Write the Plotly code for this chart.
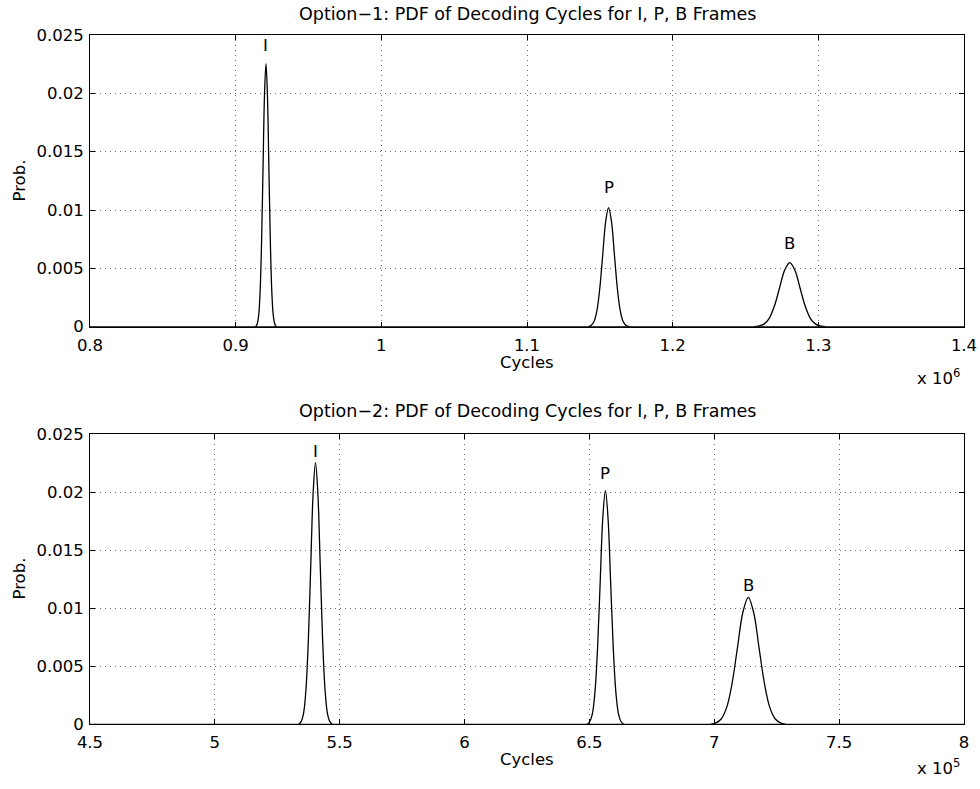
import plotly.graph_objects as go

W, H = 980, 789
FONT = "DejaVu Sans"
FS = 16.5
FS_TITLE = 17.5

# ---------------- data ----------------
# Option-1 (cycles)
opt1_I_x = [913800, 914800, 915800, 916800, 917800, 918800, 919800, 920800, 921800, 922800, 923800, 924800, 925800, 926800, 927800]
opt1_I_y = [0, 0.00025, 0.00099, 0.00305, 0.00732, 0.01367, 0.01989, 0.02254, 0.01989, 0.01367, 0.00732, 0.00305, 0.00099, 0.00025, 0]
opt1_P_x = [1142000, 1144000, 1146000, 1148000, 1150000, 1152000, 1154000, 1156000, 1158000, 1160000, 1162000, 1164000, 1166000, 1168000, 1170000]
opt1_P_y = [0, 0.00011, 0.00045, 0.00138, 0.00332, 0.00619, 0.00901, 0.01021, 0.00901, 0.00619, 0.00332, 0.00138, 0.00045, 0.00011, 0]
opt1_B_x = [1255900, 1259400, 1262900, 1266400, 1269900, 1273400, 1276900, 1280400, 1283900, 1287400, 1290900, 1294400, 1297900, 1301400, 1304900]
opt1_B_y = [0, 0.00006, 0.00024, 0.00074, 0.00179, 0.00334, 0.00485, 0.0055, 0.00485, 0.00334, 0.00179, 0.00074, 0.00024, 0.00006, 0]
opt1_base_x = [800000, 1400000]
opt1_base_y = [0, 0]

# Option-2 (cycles)
opt2_I_x = [533650, 534600, 535550, 536500, 537450, 538400, 539350, 540300, 541250, 542200, 543150, 544100, 545050, 546000, 546950]
opt2_I_y = [0, 0.00025, 0.00099, 0.00305, 0.00732, 0.01368, 0.0199, 0.02255, 0.0199, 0.01368, 0.00732, 0.00305, 0.00099, 0.00025, 0]
opt2_P_x = [649050, 650100, 651150, 652200, 653250, 654300, 655350, 656400, 657450, 658500, 659550, 660600, 661650, 662700, 663750]
opt2_P_y = [0, 0.00022, 0.00088, 0.00273, 0.00654, 0.01221, 0.01777, 0.02014, 0.01777, 0.01221, 0.00654, 0.00273, 0.00088, 0.00022, 0]
opt2_B_x = [698550, 700700, 702850, 705000, 707150, 709300, 711450, 713600, 715750, 717900, 720050, 722200, 724350, 726500, 728650]
opt2_B_y = [0, 0.00012, 0.00048, 0.00148, 0.00356, 0.00664, 0.00966, 0.01095, 0.00966, 0.00664, 0.00356, 0.00148, 0.00048, 0.00012, 0]
opt2_base_x = [450000, 800000]
opt2_base_y = [0, 0]

# peak labels
labels = ["I", "P", "B"]
opt1_label_x = [920800, 1156000, 1280400]
opt1_label_y = [0.02406, 0.01189, 0.00717]
opt2_label_x = [540300, 656400, 713600]
opt2_label_y = [0.0235, 0.02166, 0.0120]

# ticks
x1_tickvals = [800000, 900000, 1000000, 1100000, 1200000, 1300000, 1400000]
x1_ticktext = ["0.8", "0.9", "1", "1.1", "1.2", "1.3", "1.4"]
x2_tickvals = [450000, 500000, 550000, 600000, 650000, 700000, 750000, 800000]
x2_ticktext = ["4.5", "5", "5.5", "6", "6.5", "7", "7.5", "8"]
y_tickvals = [0, 0.005, 0.01, 0.015, 0.02, 0.025]
y_ticktext = ["0", "0.005", "0.01", "0.015", "0.02", "0.025"]

title1 = "Option\u22121: PDF of Decoding Cycles for I, P, B Frames"
title2 = "Option\u22122: PDF of Decoding Cycles for I, P, B Frames"

# ---------------- figure ----------------
fig = go.Figure()
line = dict(color="black", width=1.2)

fig.add_trace(go.Scatter(x=opt1_base_x, y=opt1_base_y, mode="lines", line=line, xaxis="x", yaxis="y", showlegend=False, hoverinfo="skip"))
for xs, ys in [(opt1_I_x, opt1_I_y), (opt1_P_x, opt1_P_y), (opt1_B_x, opt1_B_y)]:
    fig.add_trace(go.Scatter(x=xs, y=ys, mode="lines", line=dict(color="black", width=1.3, shape="spline", smoothing=1),
                             xaxis="x", yaxis="y", showlegend=False))
fig.add_trace(go.Scatter(x=opt2_base_x, y=opt2_base_y, mode="lines", line=line, xaxis="x2", yaxis="y2", showlegend=False, hoverinfo="skip"))
for xs, ys in [(opt2_I_x, opt2_I_y), (opt2_P_x, opt2_P_y), (opt2_B_x, opt2_B_y)]:
    fig.add_trace(go.Scatter(x=xs, y=ys, mode="lines", line=dict(color="black", width=1.3, shape="spline", smoothing=1),
                             xaxis="x2", yaxis="y2", showlegend=False))

def px_x(p):
    return p / W

def px_y(p):
    return 1 - p / H

xdom = [px_x(90), px_x(964)]
common_axis = dict(
    showline=True, linecolor="black", linewidth=1, mirror="ticks",
    ticks="inside", ticklen=5, tickcolor="black", tickwidth=1,
    showgrid=True, gridcolor="#6f6f6f", griddash="1px,4px", gridwidth=1,
    zeroline=False, automargin=False,
    tickfont=dict(family=FONT, size=FS, color="black"),
)

fig.update_layout(
    width=W, height=H,
    margin=dict(l=0, r=0, t=0, b=0, autoexpand=False),
    paper_bgcolor="white", plot_bgcolor="white",
    font=dict(family=FONT, size=FS, color="black"),
    xaxis=dict(domain=xdom, range=[800000, 1400000], anchor="y",
               tickmode="array", tickvals=x1_tickvals, ticktext=x1_ticktext,
               ticklabelstandoff=3, **common_axis),
    yaxis=dict(domain=[px_y(326.7), px_y(35)], range=[0, 0.025], anchor="x",
               tickmode="array", tickvals=y_tickvals, ticktext=y_ticktext,
               ticklabelstandoff=2, **common_axis),
    xaxis2=dict(domain=xdom, range=[450000, 800000], anchor="y2",
                tickmode="array", tickvals=x2_tickvals, ticktext=x2_ticktext,
                ticklabelstandoff=3, **common_axis),
    yaxis2=dict(domain=[px_y(724.3), px_y(434.3)], range=[0, 0.025], anchor="x2",
                tickmode="array", tickvals=y_tickvals, ticktext=y_ticktext,
                ticklabelstandoff=2, **common_axis),
)

ann = []
def txt(text, x, y, size=FS, **kw):
    d = dict(text=text, x=x, y=y, xref="paper", yref="paper", showarrow=False,
             xanchor="center", yanchor="middle", font=dict(family=FONT, size=size, color="black"))
    d.update(kw)
    ann.append(d)

cx = px_x(527)
txt(title1, cx, px_y(14), size=FS_TITLE)
txt(title2, cx, px_y(411), size=FS_TITLE)
txt("Cycles", cx, px_y(362))
txt("Cycles", cx, px_y(759))
txt("x 10<sup>6</sup>", px_x(938), px_y(377))
txt("x 10<sup>5</sup>", px_x(938), px_y(767))
txt("Prob.", px_x(18.5), px_y(181), textangle=-90)
txt("Prob.", px_x(18.5), px_y(579), textangle=-90)

for t, x, y in zip(labels, opt1_label_x, opt1_label_y):
    ann.append(dict(text=t, x=x, y=y, xref="x", yref="y", showarrow=False,
                    xanchor="center", yanchor="middle", font=dict(family=FONT, size=FS, color="black")))
for t, x, y in zip(labels, opt2_label_x, opt2_label_y):
    ann.append(dict(text=t, x=x, y=y, xref="x2", yref="y2", showarrow=False,
                    xanchor="center", yanchor="middle", font=dict(family=FONT, size=FS, color="black")))

fig.update_layout(annotations=ann)
# remove the default page margin so the 980x789 figure fills the window exactly
fig.write_html("out.html",
               config={"displayModeBar": False},
               post_script="document.body.style.margin='0';document.body.style.overflow='hidden';")
